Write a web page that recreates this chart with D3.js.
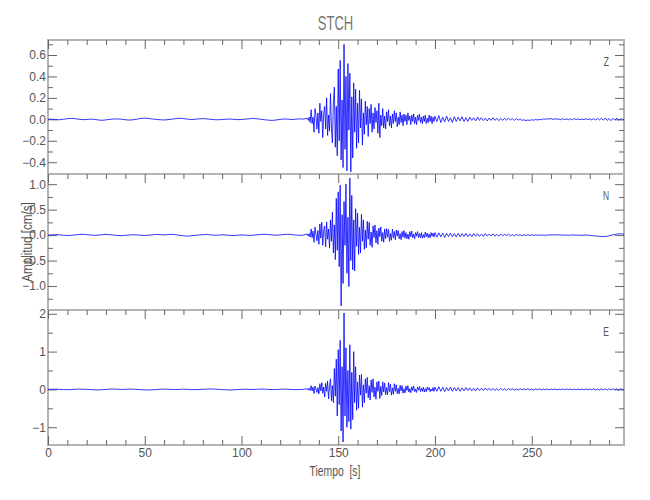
<!DOCTYPE html>
<html><head><meta charset="utf-8">
<script src="https://cdn.jsdelivr.net/npm/d3@7"></script>
<style>body{margin:0;background:#fff} svg{display:block}</style>
</head><body><svg id="c" width="650" height="500"></svg>
<script>
// ---------- data ----------
const title = "STCH";
const components = ["Z", "N", "E"];
const xLabel = "Tiempo  [s]";
const yLabel = "Amplitud [cm/s]";
const xMax = 297.7;
const xMajorTicks = [0, 50, 100, 150, 200, 250];
const xTickLabels = ["0", "50", "100", "150", "200", "250"];
const xMinorTicks = [10,20,30,40,60,70,80,90,110,120,130,140,160,170,180,190,210,220,230,240,260,270,280,290];

// sample start time (s) and step (s) of the three pieces of each trace
const segStart = [0, 134, 200];
const segStep = [2, 0.5, 1];

const zQuiet = [0.000,0.002,-0.003,-0.004,0.001,0.006,0.009,0.006,0.001,-0.003,-0.002,0.002,-0.001,-0.006,-0.009,-0.005,0.000,0.003,0.004,0.001,-0.004,-0.007,-0.004,0.002,0.008,0.011,0.008,0.003,-0.001,-0.004,-0.006,-0.003,0.002,0.006,0.010,0.007,0.002,-0.002,0.001,0.004,0.007,0.004,0.000,-0.003,-0.004,-0.002,0.001,0.003,0.000,-0.003,-0.001,0.002,0.005,0.008,0.005,0.001,-0.004,-0.008,-0.010,-0.006,-0.001,0.003,0.002,-0.002,0.001,0.004,0.002];
const zActive = [0.01,-0.01,0.02,-0.03,
 0.09,-0.04,0.02,-0.12,0.10,0.03,-0.09,0.06,
 -0.13,0.15,-0.02,0.08,-0.17,0.05,0.12,-0.09,0.20,-0.15,0.04,-0.11,
 0.24,-0.08,-0.22,0.16,0.30,-0.26,0.12,-0.34,
 0.47,-0.20,0.55,-0.38,0.18,-0.45,0.70,-0.28,0.40,-0.48,0.52,-0.10,
 0.43,-0.49,0.21,-0.36,0.34,-0.12,0.28,-0.27,
 0.15,-0.22,0.27,-0.08,0.19,-0.24,0.06,-0.14,0.17,-0.05,0.12,-0.16,
 0.10,-0.04,0.14,-0.12,0.06,-0.09,0.11,-0.03,0.08,-0.13,0.15,-0.17,0.04,-0.06,0.10,-0.08,0.03,-0.09,
 0.07,-0.02,0.09,-0.06,0.03,-0.08,0.05,-0.04,0.08,-0.02,0.06,-0.07,0.02,-0.05,0.07,-0.03,0.04,-0.06,0.05,-0.02,
 0.04,-0.05,0.06,-0.01,0.03,-0.05,0.04,-0.02,0.05,-0.04,0.02,-0.05,0.04,-0.01,0.05,-0.03,0.02,-0.04,0.03,-0.02,0.04,-0.04,0.01,-0.03,0.04,-0.02,0.03,-0.04,0.02,-0.02];
const zTail = [0.03,-0.02,0.035,-0.03,0.02,-0.025,0.03,-0.02,0.015,-0.03,
 0.025,-0.02,0.02,-0.015,0.025,-0.02,0.015,-0.02,0.02,-0.01,
 0.015,-0.015,0.02,-0.01,0.015,-0.012,0.01,-0.015,0.012,-0.01,
 0.015,-0.01,0.01,-0.012,0.008,-0.01,0.012,-0.008,0.01,-0.006,
 0.008,-0.01,0.006,-0.008,0.005,-0.01,-0.004,-0.012,-0.006,-0.01,
 -0.004,-0.008,-0.002,-0.006,0.0,-0.004,0.004,0.0,0.006,0.002,
 0.008,-0.002,0.006,0.0,0.004,-0.004,0.006,-0.002,0.004,-0.004,
 0.005,-0.003,0.006,-0.002,0.004,-0.004,0.003,-0.003,0.006,-0.002,
 0.004,-0.005,0.006,-0.004,0.008,-0.006,0.01,-0.008,0.012,-0.01,
 0.008,-0.012,0.01,-0.008,0.012,-0.01,0.008,-0.006,0.004];

const nQuiet = [0.000,0.004,0.010,0.006,-0.002,-0.008,-0.004,0.004,0.012,0.016,0.010,0.002,-0.004,0.000,0.008,0.014,0.008,0.000,-0.006,-0.010,-0.004,0.002,0.008,0.004,-0.002,-0.006,-0.002,0.006,0.014,0.010,0.004,0.010,0.016,0.008,-0.004,-0.012,-0.020,-0.012,-0.004,0.002,0.008,0.012,0.006,-0.002,0.000,0.006,0.002,-0.004,-0.008,-0.002,0.004,0.000,-0.006,-0.002,0.006,0.012,0.016,0.010,0.004,-0.002,0.004,0.012,0.018,0.010,0.002,-0.004,0.002];
const nActive = [0.02,-0.02,0.03,-0.04,
 0.12,-0.05,0.08,-0.14,0.16,0.02,-0.11,0.09,
 -0.18,0.22,-0.06,0.25,-0.20,0.10,0.18,-0.23,0.26,-0.08,0.12,-0.25,
 0.30,-0.12,0.45,-0.35,0.20,-0.48,0.72,-0.30,
 0.85,-0.62,0.98,-1.39,0.40,-0.95,0.66,-0.20,1.00,-0.75,0.35,-1.01,
 1.12,-0.50,0.78,-0.68,0.30,-0.70,0.52,-0.22,
 0.43,-0.38,0.15,-0.35,0.41,-0.12,0.30,-0.28,0.10,-0.25,0.27,-0.08,
 0.25,-0.20,0.06,-0.24,0.18,-0.05,0.20,-0.15,0.09,-0.18,0.14,-0.03,0.16,-0.12,0.05,-0.14,0.12,-0.07,
 0.13,-0.04,0.11,-0.12,0.03,-0.10,0.12,-0.05,0.07,-0.09,0.10,-0.02,0.09,-0.07,0.03,-0.09,0.07,-0.04,0.09,-0.06,
 0.05,-0.07,0.02,-0.08,0.07,-0.03,0.08,-0.05,0.02,-0.07,0.05,-0.02,0.07,-0.05,0.03,-0.05,0.05,-0.06,0.01,-0.05,0.06,-0.03,0.04,-0.05,0.02,-0.05,0.05,-0.02,0.04,-0.04];
const nTail = [0.05,-0.04,0.045,-0.035,0.04,-0.045,0.035,-0.03,0.04,-0.035,
 0.03,-0.035,0.035,-0.03,0.03,-0.025,0.035,-0.03,0.025,-0.03,
 0.03,-0.02,0.025,-0.025,0.02,-0.025,0.03,-0.02,0.02,-0.015,
 0.025,-0.02,0.015,-0.02,0.02,-0.015,0.015,-0.01,0.02,-0.015,
 0.01,-0.015,0.015,-0.01,0.01,-0.015,0.01,-0.01,0.012,-0.008,
 0.008,-0.01,0.006,-0.004,0.004,-0.006,0.002,-0.004,0.004,0.0,
 0.006,0.002,0.008,0.004,0.006,0.0,0.004,-0.002,0.002,-0.004,
 0.0,0.004,0.002,-0.002,0.0,0.002,-0.004,-0.002,0.002,0.0,
 -0.004,-0.008,-0.012,-0.016,-0.02,-0.024,-0.026,-0.028,-0.026,-0.022,
 -0.014,-0.004,0.006,0.014,0.02,0.024,0.026,0.022,0.018];

const eQuiet = [0.000,0.003,0.006,0.002,-0.004,-0.008,-0.003,0.004,0.008,0.004,0.000,-0.004,-0.010,-0.014,-0.008,0.000,0.006,0.010,0.004,-0.002,0.002,0.008,0.006,0.000,-0.006,-0.012,-0.016,-0.010,-0.002,0.004,0.008,0.004,0.000,-0.004,0.002,0.006,0.002,-0.004,-0.006,-0.002,0.004,0.008,0.012,0.008,0.002,-0.004,-0.010,-0.016,-0.012,-0.004,0.002,0.006,0.002,-0.002,0.004,0.010,0.006,0.000,-0.004,-0.002,0.004,0.008,0.004,-0.002,-0.006,-0.002,0.002];
const eActive = [0.02,-0.02,0.03,-0.03,
 0.10,-0.04,0.06,-0.11,0.09,0.01,-0.08,0.05,
 -0.12,0.15,-0.04,0.18,-0.10,0.06,-0.20,0.16,-0.05,0.22,-0.25,0.08,
 0.28,-0.30,0.10,-0.35,0.55,-0.18,0.80,-0.70,
 1.05,-0.40,1.30,-1.10,0.60,-1.39,2.02,-0.70,1.10,-1.00,0.50,-0.85,
 1.18,-1.05,0.45,-0.80,1.00,-0.35,0.60,-0.55,
 0.20,-0.50,0.38,-0.15,0.40,-0.47,0.12,-0.35,0.28,-0.10,0.32,-0.22,
 0.10,-0.28,0.25,-0.08,0.28,-0.20,0.06,-0.26,0.20,-0.05,0.22,-0.24,0.08,-0.16,0.20,-0.07,0.17,-0.14,
 0.05,-0.14,0.18,-0.06,0.14,-0.15,0.04,-0.13,0.15,-0.05,0.12,-0.11,0.03,-0.12,0.11,-0.04,0.10,-0.10,0.02,-0.09,
 0.09,-0.03,0.10,-0.07,0.02,-0.09,0.07,-0.03,0.09,-0.06,0.01,-0.08,0.06,-0.02,0.08,-0.06,0.03,-0.05,0.06,-0.07,0.02,-0.06,0.06,-0.02,0.05,-0.06,0.01,-0.04,0.05,-0.05];
const eTail = [0.06,-0.05,0.07,-0.05,0.06,-0.06,0.05,-0.04,0.06,-0.05,
 0.05,-0.04,0.05,-0.05,0.04,-0.04,0.05,-0.03,0.04,-0.04,
 0.03,-0.04,0.04,-0.03,0.03,-0.03,0.04,-0.02,0.03,-0.03,
 0.025,-0.03,0.02,-0.025,0.03,-0.02,0.02,-0.025,0.02,-0.015,
 0.02,-0.02,0.015,-0.02,0.02,-0.015,0.015,-0.01,0.02,-0.015,
 0.01,-0.015,0.015,-0.01,0.012,-0.01,0.01,-0.012,0.015,-0.01,
 0.01,-0.008,0.012,-0.01,0.008,-0.01,0.012,-0.008,0.01,-0.006,
 0.008,-0.01,0.006,-0.008,0.01,-0.006,0.008,-0.01,0.012,-0.008,
 0.01,-0.012,0.015,-0.01,0.012,-0.015,0.018,-0.012,0.015,-0.018,
 0.02,-0.015,0.018,-0.012,0.015,-0.018,0.02,-0.015,0.01];

const yDomains = [[-0.51, 0.74], [-1.47, 1.20], [-1.47, 2.10]];
const yMajorTicks = [[-0.4,-0.2,0,0.2,0.4,0.6], [-1,-0.5,0,0.5,1], [-1,0,1,2]];
const yTickLabels = [["\u22120.4","\u22120.2","0.0","0.2","0.4","0.6"], ["\u22121.0","\u22120.5","0.0","0.5","1.0"], ["\u22121","0","1","2"]];
const yMinorTicks = [[-0.5,-0.3,-0.1,0.1,0.3,0.5,0.7], [-1.25,-0.75,-0.25,0.25,0.75], [-0.5,0.5,1.5]];

// ---------- drawing ----------
const svg = d3.select("#c");
const left = 48, right = 624;
const tops = [40, 174, 310], bottoms = [174, 310, 445];
const FONT = "'Liberation Sans', Arial, sans-serif";
const x = d3.scaleLinear().domain([0, xMax]).range([left, right]);
const traces = [[zQuiet, zActive, zTail], [nQuiet, nActive, nTail], [eQuiet, eActive, eTail]];
const tickColor = "#666";

function styleAxis(g) {
  g.select(".domain").remove();
  g.selectAll(".tick line").attr("stroke", tickColor).attr("stroke-width", 1);
  g.selectAll(".tick text").attr("fill", "#555").attr("font-family", FONT).attr("font-size", 12);
}

traces.forEach((segs, k) => {
  const y = d3.scaleLinear().domain(yDomains[k]).range([bottoms[k], tops[k]]);
  const g = svg.append("g");
  g.append("rect").attr("x", left).attr("y", tops[k]).attr("width", right - left)
    .attr("height", bottoms[k] - tops[k]).attr("fill", "none")
    .attr("stroke", "#b4b4b4").attr("stroke-width", 2);
  g.append("g").attr("transform", `translate(0,${tops[k]})`)
    .call(d3.axisBottom(x).tickValues(xMinorTicks).tickSize(5).tickFormat("")).call(styleAxis);
  g.append("g").attr("transform", `translate(0,${tops[k]})`)
    .call(d3.axisBottom(x).tickValues(xMajorTicks).tickSize(9).tickFormat("")).call(styleAxis);
  if (k === 2) {
    g.append("g").attr("transform", `translate(0,${bottoms[k]})`)
      .call(d3.axisTop(x).tickValues(xMinorTicks).tickSize(5).tickFormat("")).call(styleAxis);
    g.append("g").attr("transform", `translate(0,${bottoms[k]})`)
      .call(d3.axisTop(x).tickValues(xMajorTicks).tickSize(9).tickFormat("")).call(styleAxis);
    g.append("g").attr("transform", `translate(0,${bottoms[k]})`)
      .call(d3.axisBottom(x).tickValues(xMajorTicks).tickSize(0).tickPadding(3)
        .tickFormat((d, i) => xTickLabels[i])).call(styleAxis);
  }
  g.append("g").attr("transform", `translate(${left},0)`)
    .call(d3.axisRight(y).tickValues(yMinorTicks[k]).tickSize(5).tickFormat("")).call(styleAxis);
  g.append("g").attr("transform", `translate(${left},0)`)
    .call(d3.axisRight(y).tickValues(yMajorTicks[k]).tickSize(9).tickFormat("")).call(styleAxis);
  g.append("g").attr("transform", `translate(${right},0)`)
    .call(d3.axisLeft(y).tickValues(yMinorTicks[k]).tickSize(5).tickFormat("")).call(styleAxis);
  g.append("g").attr("transform", `translate(${right},0)`)
    .call(d3.axisLeft(y).tickValues(yMajorTicks[k]).tickSize(9).tickFormat("")).call(styleAxis);
  g.append("g").attr("transform", `translate(${left - 1},0)`)
    .call(d3.axisLeft(y).tickValues(yMajorTicks[k]).tickSize(0).tickPadding(1)
      .tickFormat((d, i) => yTickLabels[k][i])).call(styleAxis);
  const pts = [];
  segs.forEach((arr, s) => arr.forEach((v, i) => pts.push([segStart[s] + i * segStep[s], v])));
  const line = d3.line().x(d => x(Math.min(d[0], xMax))).y(d => y(d[1]));
  g.append("path").attr("d", line(pts.filter(d => d[0] <= xMax + 0.5)))
    .attr("fill", "none").attr("stroke", "#0000ff").attr("stroke-width", 0.8)
    .attr("stroke-linejoin", "round");
  g.append("text").attr("transform", `translate(609,${tops[k] + 26}) scale(0.65,1)`)
    .attr("text-anchor", "end").attr("font-family", FONT).attr("font-size", 13)
    .attr("fill", "#555").text(components[k]);
});

svg.append("text").attr("transform", "translate(335.5,30) scale(0.62,1)")
  .attr("text-anchor", "middle").attr("font-family", FONT).attr("font-size", 21)
  .attr("fill", "#777").text(title);
svg.append("text").attr("transform", "translate(335,476) scale(0.74,1)")
  .attr("text-anchor", "middle").attr("font-family", FONT).attr("font-size", 14)
  .attr("fill", "#555").style("white-space", "pre").text(xLabel);
svg.append("text").attr("transform", "translate(31.5,242) rotate(-90) scale(0.83,1)")
  .attr("text-anchor", "middle").attr("font-family", FONT).attr("font-size", 14)
  .attr("fill", "#555").text(yLabel);
</script></body></html>
